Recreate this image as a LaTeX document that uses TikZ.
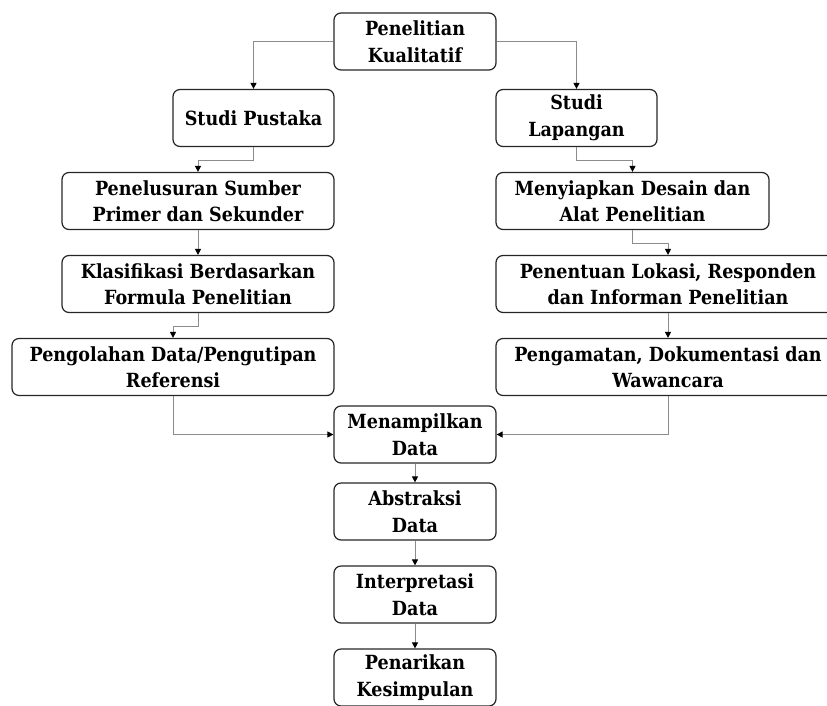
\documentclass[tikz,border=0pt]{standalone}
\usepackage{fontspec}
\setmainfont{DejaVu Serif Condensed}
\usetikzlibrary{arrows.meta}
\begin{document}
\begin{tikzpicture}[x=1pt,y=-1pt,
  box/.style={draw=black!85,line width=1.2pt,rounded corners=7pt,align=center,
    inner sep=0pt,minimum height=57pt,font=\bfseries\fontsize{19.5}{26.5}\selectfont},
  conn/.style={draw=black!45,line width=0.9pt,-{Triangle[length=6pt,width=6pt,black]}}]
\useasboundingbox (0,0) rectangle (827,705);
\node[box,minimum width=162pt] (top) at (415,41.5) {Penelitian\\Kualitatif};
\node[box,minimum width=161pt] (sp) at (253.5,118) {Studi Pustaka};
\node[box,minimum width=161pt] (sl) at (576.5,118) {Studi\\Lapangan};
\node[box,minimum width=272pt] (pen) at (198,201) {Penelusuran Sumber\\Primer dan Sekunder};
\node[box,minimum width=273pt] (meny) at (632.5,201) {Menyiapkan Desain dan\\Alat Penelitian};
\node[box,minimum width=272pt] (kla) at (198,284) {Klasifikasi Berdasarkan\\Formula Penelitian};
\node[box,minimum width=344pt] (pnt) at (668,284) {Penentuan Lokasi, Responden\\dan Informan Penelitian};
\node[box,minimum width=322pt] (pgl) at (173,367) {Pengolahan Data/Pengutipan\\Referensi};
\node[box,minimum width=344pt] (pgm) at (668,367) {Pengamatan, Dokumentasi dan\\Wawancara};
\node[box,minimum width=162pt] (men) at (415,434.5) {Menampilkan\\Data};
\node[box,minimum width=162pt] (abs) at (415,511.5) {Abstraksi\\Data};
\node[box,minimum width=162pt] (int) at (415,594.5) {Interpretasi\\Data};
\node[box,minimum width=162pt] (par) at (415,677.5) {Penarikan\\Kesimpulan};
\draw[conn] (top.west) -| (sp.north);
\draw[conn] (top.east) -| (sl.north);
\draw[conn] (sp.south) -- ++(0,13) -| (pen.north);
\draw[conn] (sl.south) -- ++(0,13) -| (meny.north);
\draw[conn] (pen.south) -- (kla.north);
\draw[conn] (kla.south) -- ++(0,13) -| (pgl.north);
\draw[conn] (meny.south) -- ++(0,13) -| (pnt.north);
\draw[conn] (pnt.south) -- (pgm.north);
\draw[conn] (pgl.south) |- (men.west);
\draw[conn] (pgm.south) |- (men.east);
\draw[conn] (men.south) -- (abs.north);
\draw[conn] (abs.south) -- (int.north);
\draw[conn] (int.south) -- (par.north);
\end{tikzpicture}
\end{document}
